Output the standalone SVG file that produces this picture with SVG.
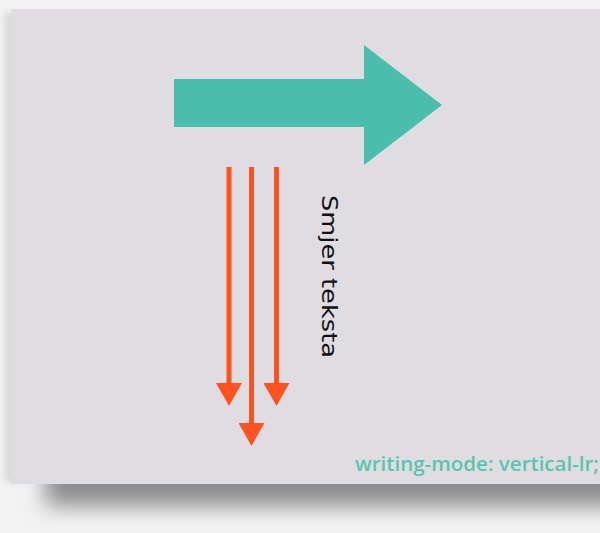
<svg xmlns="http://www.w3.org/2000/svg" width="600" height="533" viewBox="0 0 600 533">
  <defs>
    <filter id="blur" x="-20%" y="-60%" width="140%" height="220%">
      <feGaussianBlur stdDeviation="11"/>
    </filter>
    <filter id="blurSmall" x="-20%" y="-20%" width="140%" height="140%">
      <feGaussianBlur stdDeviation="3"/>
    </filter>
    <marker id="head" viewBox="0 0 23 26" refX="12" refY="13" markerWidth="23" markerHeight="26" markerUnits="userSpaceOnUse" orient="auto">
      <path d="M0,0 L23,13 L0,26 Z" fill="#fe5320"/>
    </marker>
    <style>
      .orange { stroke: #fe5320; stroke-width: 5; fill: none; }
    </style>
  </defs>
  <rect x="0" y="0" width="600" height="533" fill="#f3f3f3"/>
  <g id="shadow">
    <rect x="4" y="12" width="18" height="470" fill="#dadada" filter="url(#blurSmall)"/>
    <rect x="45" y="440" width="620" height="66" fill="#8b8b8b" filter="url(#blur)"/>
  </g>
  <g id="panel">
    <rect x="11" y="9" width="600" height="475" fill="#dfdce2"/>
  </g>
  <g id="big-arrow">
    <path d="M174,79 L364,79 L364,45 L442,105 L364,165 L364,127 L174,127 Z" fill="#4bbdac"/>
  </g>
  <g id="connectors">
    <line class="orange" x1="229" y1="167" x2="229" y2="395" marker-end="url(#head)"/>
    <line class="orange" x1="251.5" y1="167" x2="251.5" y2="435" marker-end="url(#head)"/>
    <line class="orange" x1="276.5" y1="167" x2="276.5" y2="395" marker-end="url(#head)"/>
  </g>
  <g id="label-direction">
    <text transform="translate(322,195) rotate(90)" font-family="'DejaVu Sans', sans-serif" font-size="22" fill="#111" textLength="163" lengthAdjust="spacingAndGlyphs">Smjer teksta</text>
  </g>
  <g id="label-code">
    <text x="355" y="471" font-family="'Open Sans', 'DejaVu Sans', sans-serif" font-size="19" font-weight="600" fill="#5ac4b1" textLength="244" lengthAdjust="spacingAndGlyphs">writing-mode: vertical-lr;</text>
  </g>
</svg>
